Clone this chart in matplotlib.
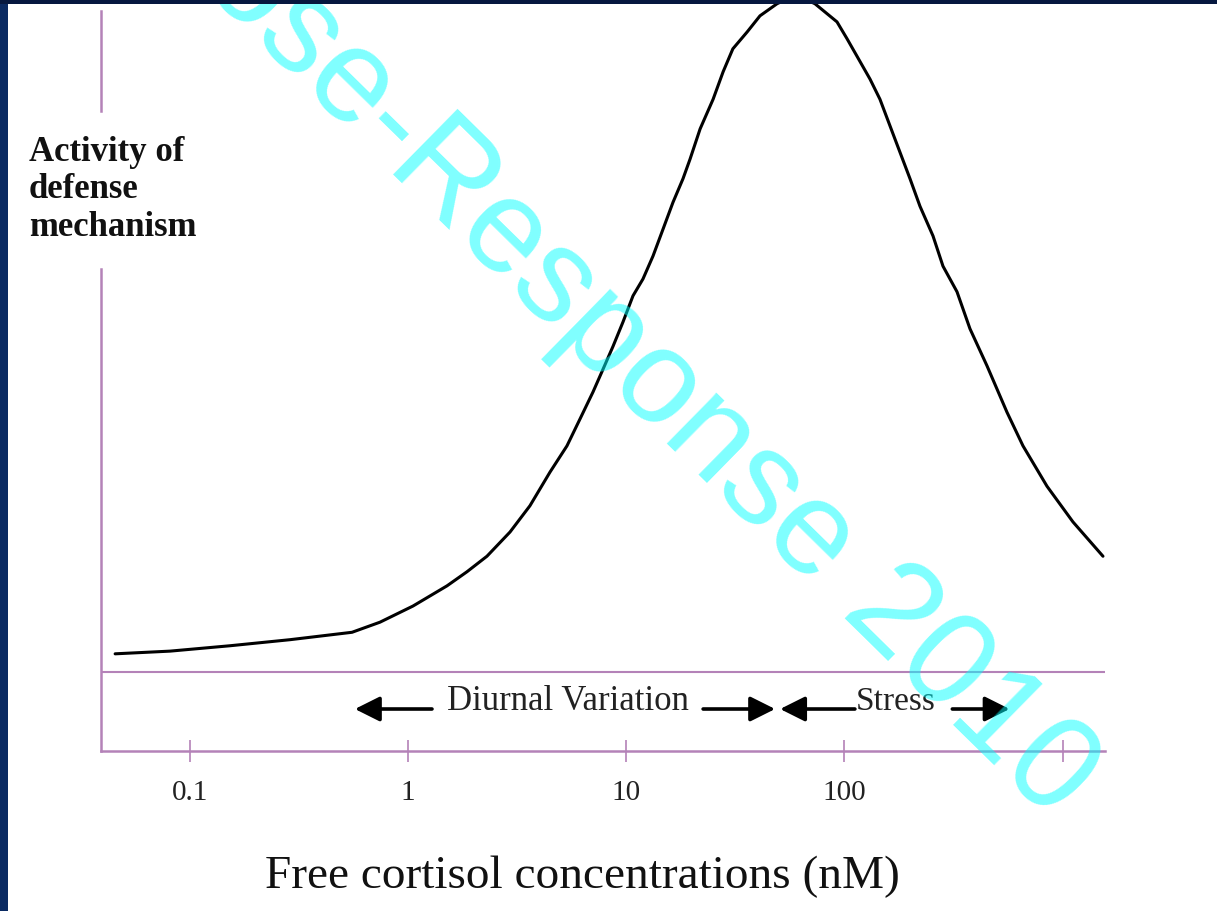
import matplotlib
matplotlib.use("Agg")
import matplotlib.pyplot as plt
from matplotlib.patches import Rectangle

# ---- data ----
conc = [0.0455, 0.0812, 0.153, 0.288, 0.554, 0.744, 1.054, 1.509, 1.864, 2.30,
        2.934, 3.62, 4.473, 5.35, 6.14, 7.04, 7.83, 8.70, 9.66, 10.74,
        11.93, 13.26, 14.74, 16.38, 18.2, 19.6, 21.8, 25.0, 27.8, 30.8,
        35.8, 41.0, 49.1, 59.9, 73.2, 92.4, 102.7, 114.1, 130.9, 145.4,
        170.3, 199.6, 221.8, 254.4, 282.7, 327.7, 375.8, 449.7, 555.3, 657.5,
        847.0, 1114.0, 1529.0]
activity = [2.7, 3.1, 3.9, 4.8, 5.9, 7.4, 9.8, 12.8, 14.9, 17.2,
            20.8, 24.7, 29.7, 33.6, 37.6, 41.6, 45.0, 48.4, 52.0, 55.9,
            58.4, 61.8, 65.8, 69.8, 73.3, 76.2, 80.7, 85.1, 89.2, 92.6,
            95.1, 97.5, 99.3, 100.6, 99.3, 96.6, 94.1, 91.5, 88.1, 85.1,
            79.2, 73.3, 69.2, 64.8, 60.3, 56.5, 51.0, 45.5, 38.6, 33.6,
            27.6, 22.3, 17.2]
tick_values = [0.1, 1, 10, 100, 1000]
tick_labels = ["0.1", "1", "10", "100", ""]
diurnal_range = [0.571, 48.1]      # arrow tips
diurnal_text_gap = [1.288, 22.5]   # arrow tails (around the label)
stress_range = [50.7, 571.0]
stress_text_gap = [111.6, 312.0]

PURPLE = "#b482b8"
SERIF = "Liberation Serif"

W, H = 1217, 912
fig = plt.figure(figsize=(W / 100, H / 100), dpi=100)
fig.patch.set_facecolor("white")

def fx(px):
    return px / W

def fy(py):
    return 1 - py / H

ax = fig.add_axes([fx(101), fy(752), fx(1105) - fx(101), 752 / H])
ax.set_facecolor("none")
ax.set_xscale("log")
ax.set_xlim(0.0392, 1562)
ax.set_ylim(-11.74, 100)

ax.plot(conc, activity, color="black", lw=2.2, solid_joinstyle="round",
        solid_capstyle="round", zorder=3)

# baseline of the activity scale
ax.axhline(0, color=PURPLE, lw=1.5, zorder=2)

# broken left axis
ax.axvline(ax.get_xlim()[0], ymin=0.851, ymax=0.984, color=PURPLE, lw=1.8, clip_on=False)
ax.axvline(ax.get_xlim()[0], ymin=0.0, ymax=0.641, color=PURPLE, lw=1.8, clip_on=False)

for s in ["top", "right", "left"]:
    ax.spines[s].set_visible(False)
ax.spines["bottom"].set_color(PURPLE)
ax.spines["bottom"].set_linewidth(1.8)

ax.set_yticks([])
ax.set_xticks(tick_values)
ax.set_xticklabels(tick_labels)
ax.xaxis.set_minor_locator(matplotlib.ticker.NullLocator())
ax.tick_params(axis="x", direction="inout", length=16, width=1.2, color=PURPLE,
               pad=12, labelsize=21, labelcolor="#222222")
for lab in ax.get_xticklabels():
    lab.set_fontfamily(SERIF)

# range annotations
arrow_kw = dict(arrowstyle="-|>", lw=2.6, color="black", mutation_scale=38,
                shrinkA=0, shrinkB=0)
y_arrow = -5.5
ax.annotate("", xy=(diurnal_range[0], y_arrow), xytext=(diurnal_text_gap[0], y_arrow),
            arrowprops=arrow_kw)
ax.annotate("", xy=(diurnal_range[1], y_arrow), xytext=(diurnal_text_gap[1], y_arrow),
            arrowprops=arrow_kw)
ax.annotate("", xy=(stress_range[0], y_arrow), xytext=(stress_text_gap[0], y_arrow),
            arrowprops=arrow_kw)
ax.annotate("", xy=(stress_range[1], y_arrow), xytext=(stress_text_gap[1], y_arrow),
            arrowprops=arrow_kw)
ax.text(5.41, -4.2, "Diurnal Variation", ha="center", va="center",
        fontsize=25, family=SERIF, color="#222222")
ax.text(172.5, -4.2, "Stress", ha="center", va="center",
        fontsize=24, family=SERIF, color="#222222")

# axis titles
fig.text(fx(29), fy(136), "Activity of\ndefense\nmechanism", ha="left", va="top",
         fontsize=25, fontweight="bold", family=SERIF, linespacing=1.18,
         color="#111111")
fig.text(fx(582), fy(877), "Free cortisol concentrations (nM)", ha="center",
         va="center", fontsize=34, family=SERIF, color="#111111")

# watermark
fig.text(fx(615), fy(345), "Dose-Response 2010", ha="center", va="center",
         rotation=-44.5, rotation_mode="anchor", fontsize=96,
         family="Liberation Sans", color="cyan", alpha=0.5, zorder=20)

# dark slide border (left and top)
fig.add_artist(Rectangle((0, 0), fx(8), 1, transform=fig.transFigure,
                         facecolor="#0a2a62", edgecolor="none", zorder=30))
fig.add_artist(Rectangle((0, fy(5)), 1, 5 / H, transform=fig.transFigure,
                         facecolor="#06183f", edgecolor="none", zorder=30))

fig.savefig("out.png", dpi=100)
